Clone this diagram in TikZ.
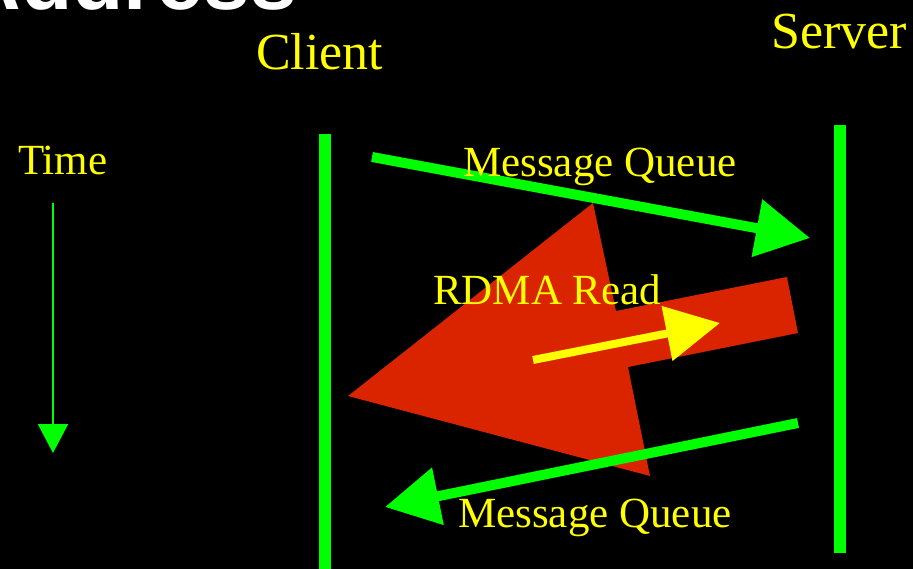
\documentclass[tikz,border=0pt]{standalone}
\usepackage{fontspec}
\setmainfont{Liberation Serif}
\newfontfamily\titlefont{Liberation Sans}
\usetikzlibrary{arrows.meta}
\definecolor{grn}{RGB}{0,255,0}
\definecolor{ylw}{RGB}{255,255,0}
\definecolor{rdm}{RGB}{218,36,0}
\tikzset{
  lbl/.style={text=ylw, font=\fontsize{43}{43}\selectfont, inner sep=0pt, anchor=base west},
  biglbl/.style={text=ylw, font=\fontsize{52}{52}\selectfont, inner sep=0pt, anchor=base west},
  msg/.style={draw=grn, line width=10pt, -{Triangle[length=54pt,width=56pt]}},
  rd/.style={draw=ylw, line width=8pt, -{Triangle[length=54pt,width=54pt]}},
  timeline/.style={draw=grn, line width=2pt, -{Triangle[length=29pt,width=30pt]}},
  lifeline/.style={draw=grn, line width=12pt}
}
\begin{document}
\begin{tikzpicture}[x=1pt,y=-1pt]
\useasboundingbox (0,0) rectangle (913,569);
\clip (0,0) rectangle (913,569);
\fill[black] (0,0) rectangle (913,569);
% partial title
\node[text=white, font=\titlefont\bfseries\fontsize{84}{84}\selectfont, inner sep=0pt, anchor=base east] (title) at (297,10) {Address};
% coordinates
\coordinate (c1) at (325,134);
\coordinate (c2) at (325,575);
\coordinate (s1) at (840,125);
\coordinate (s2) at (840,553);
\coordinate (m1a) at (372,157);
\coordinate (m1b) at (810,238);
\coordinate (m2a) at (798,423);
\coordinate (m2b) at (385,507);
\coordinate (ya) at (533,360);
\coordinate (yb) at (720,323);
\coordinate (ta) at (53,203);
\coordinate (tb) at (53,453);
% red arrow
\fill[rdm] (348,396) -- (593,203) -- (616,311) -- (787,277) -- (798,333) -- (628,367) -- (650,476) -- cycle;
% lifelines
\draw[lifeline] (c1) -- (c2);
\draw[lifeline] (s1) -- (s2);
% messages
\draw[msg] (m1a) -- (m1b);
\draw[msg] (m2a) -- (m2b);
\draw[rd] (ya) -- (yb);
\draw[timeline] (ta) -- (tb);
% labels
\node[biglbl] (client) at (256,70) {Client};
\node[biglbl] (server) at (771,49) {Server};
\node[lbl] (time) at (18,175) {Time};
\node[lbl] (mq1) at (463,177) {Message Queue};
\node[lbl] (rdma) at (433,305) {RDMA Read};
\node[lbl] (mq2) at (458,527) {Message Queue};
\end{tikzpicture}
\end{document}
